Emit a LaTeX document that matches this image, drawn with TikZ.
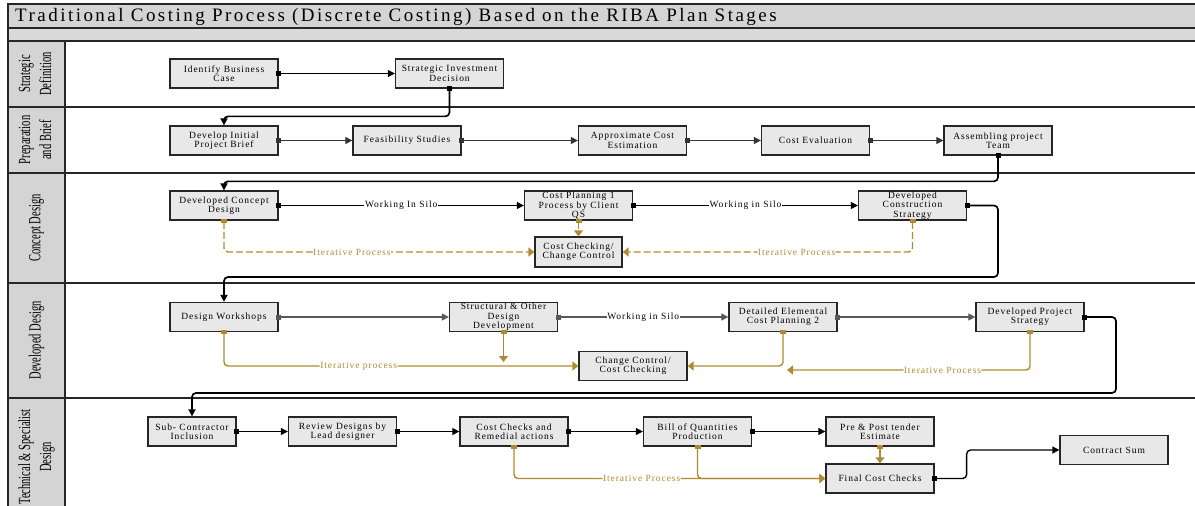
\documentclass[tikz,border=0pt]{standalone}
\usepackage{fontspec}
\setmainfont{Liberation Serif}
\newfontfamily\boxfont[LetterSpace=10]{Liberation Serif}
\newfontfamily\titlefont[LetterSpace=13]{Liberation Serif}
\usetikzlibrary{arrows.meta}
\definecolor{boxgray}{HTML}{E8E8E8}
\definecolor{lanegray}{HTML}{D4D4D4}
\definecolor{bandgray}{HTML}{DADADA}
\definecolor{gold}{HTML}{B08A30}
\begin{document}
\begin{tikzpicture}[x=1pt,y=-1pt,
  box/.style={draw=black!85, line width=1.3pt, fill=boxgray, minimum width=108pt, minimum height=29pt, inner sep=0.5pt, align=center, font=\boxfont\fontsize{9.5pt}{9.3pt}\selectfont},
  lbl/.style={fill=white, inner sep=0.6pt, font=\boxfont\fontsize{9.5pt}{9pt}\selectfont},
  glbl/.style={lbl, text=gold},
  blk/.style={draw=black, line width=1.2pt, {Square[length=5pt,width=5pt]}-{Triangle[length=7pt,width=7pt]}, shorten <=-2.5pt},
  link/.style={blk, line width=1.7pt, rounded corners=4pt},
  gld/.style={draw=gold, line width=1.4pt, {Square[length=4pt,width=6pt]}-{Triangle[length=6pt,width=9pt]}, shorten <=-2pt, rounded corners=4pt},
  gdash/.style={gld, dash pattern=on 7pt off 3pt},
  lane/.style={rotate=90, align=center, inner sep=0pt, font=\fontsize{17pt}{21pt}\selectfont},
  frame/.style={draw=black!85, line width=1.3pt}
]
\useasboundingbox (0,0) rectangle (1195,506);
\clip (0,0) rectangle (1195,506);
% frame
\fill[lanegray] (8,4) rectangle (1195,28);
\fill[bandgray] (8,28) rectangle (1195,41);
\fill[lanegray] (8,41) rectangle (65,506);
\draw[frame] (1195,4) -- (8,4) -- (8,506);
\draw[frame] (8,28) -- (1195,28);
\draw[frame] (8,41) -- (1195,41);
\draw[frame] (65,41) -- (65,506);
\foreach \yy in {107,173,283,398} \draw[frame] (8,\yy) -- (1195,\yy);
\node[anchor=west, inner sep=0pt, font=\titlefont\fontsize{19pt}{19pt}\selectfont] (title) at (15,16.5) {Traditional Costing Process (Discrete Costing) Based on the RIBA Plan Stages};
% lane labels
\node[lane] (l1) at (36.5,74) {\scalebox{0.62}[1]{\begin{tabular}{@{}c@{}}Strategic\\Definition\end{tabular}}};
\node[lane] (l2) at (36.5,140) {\scalebox{0.62}[1]{\begin{tabular}{@{}c@{}}Preparation\\and Brief\end{tabular}}};
\node[lane] (l3) at (36.5,228) {\scalebox{0.62}[1]{Concept Design}};
\node[lane] (l4) at (36.5,340.5) {\scalebox{0.62}[1]{Developed Design}};
\node[lane] (l5) at (36.5,457) {\scalebox{0.62}[1]{\begin{tabular}{@{}c@{}}Technical \& Specialist\\Design\end{tabular}}};
% boxes
\node[box] (idb) at (224,73.5) {Identify Business\\Case};
\node[box] (sid) at (449.5,73.5) {Strategic Investment\\Decision};
\node[box] (dipb) at (224,140.5) {Develop Initial\\Project Brief};
\node[box] (fs) at (407,140.5) {Feasibility Studies};
\node[box] (ace) at (632.5,140.5) {Approximate Cost\\Estimation};
\node[box] (ce) at (815.5,140.5) {Cost Evaluation};
\node[box] (apt) at (998,140.5) {Assembling project\\Team};
\node[box] (dcd) at (224,205.5) {Developed Concept\\Design};
\node[box] (cp1) at (578.5,205.5) {Cost Planning 1\\Process by Client\\QS};
\node[box] (dcs) at (912.5,205.5) {Developed\\Construction\\Strategy};
\node[box, minimum width=87pt, minimum height=30pt] (ccc) at (578.5,252) {Cost Checking/\\Change Control};
\node[box] (dw) at (224,317) {Design Workshops};
\node[box] (sod) at (503.5,317) {Structural \& Other\\Design\\Development};
\node[box] (dec) at (783,317) {Detailed Elemental\\Cost Planning 2};
\node[box] (dps) at (1030,317) {Developed Project\\Strategy};
\node[box] (ccx) at (633,366) {Change Control/\\Cost Checking};
\node[box, minimum width=88pt] (sci) at (192,431.5) {Sub- Contractor\\Inclusion};
\node[box] (rdl) at (342.5,431.5) {Review Designs by\\Lead designer};
\node[box] (ccr) at (514,431.5) {Cost Checks and\\Remedial actions};
\node[box] (boq) at (697.5,431.5) {Bill of Quantities\\Production};
\node[box] (ppt) at (880,431.5) {Pre \& Post tender\\Estimate};
\node[box] (fcc) at (880,478.5) {Final Cost Checks};
\node[box] (cs) at (1114,450) {Contract Sum};
% lane 1
\draw[blk] (idb.east) -- (sid.west);
\draw[link] (sid.south) |- ([yshift=9pt]dipb.north) -- (dipb.north);
% lane 2
\draw[blk, draw=black!80] (dipb.east) -- (fs.west);
\draw[blk, draw=black!80] (fs.east) -- (ace.west);
\draw[blk, draw=black!80] (ace.east) -- (ce.west);
\draw[blk, draw=black!80] (ce.east) -- (apt.west);
\draw[link] (apt.south) |- ([yshift=9pt]dcd.north) -- (dcd.north);
% lane 3
\draw[blk] (dcd.east) -- node[lbl]{Working In Silo} (cp1.west);
\draw[blk] (cp1.east) -- node[lbl]{Working in Silo} (dcs.west);
\draw[gdash] (cp1.south) -- (ccc.north);
\draw[gdash] (dcd.south) |- node[glbl, pos=0.706]{Iterative Process} (ccc.west);
\draw[gdash] (dcs.south) |- node[glbl, pos=0.70]{Iterative Process} (ccc.east);
\coordinate (t3) at (998,277);
\draw[link] (dcs.east) -| (t3) -| (dw.north);
% lane 4
\draw[blk, draw=black!65] (dw.east) -- (sod.west);
\draw[blk, draw=black!65] (sod.east) -- node[lbl]{Working in Silo} (dec.west);
\draw[blk, draw=black!65] (dec.east) -- (dps.west);
\draw[gld] (dw.south) |- node[glbl, pos=0.69]{Iterative process} (ccx.west);
\coordinate (g2) at (503.5,362);
\draw[gld] (sod.south) -- (g2);
\draw[gld] (dec.south) |- (ccx.east);
\coordinate (g4) at (787,370);
\draw[gld] (dps.south) |- node[glbl, pos=0.68]{Iterative Process} (g4);
\coordinate (t4) at (1116,393);
\draw[link] (dps.east) -| (t4) -| (sci.north);
% lane 5
\draw[blk] (sci.east) -- (rdl.west);
\draw[blk] (rdl.east) -- (ccr.west);
\draw[blk] (ccr.east) -- (boq.west);
\draw[blk] (boq.east) -- (ppt.west);
\draw[gld] (ppt.south) -- (fcc.north);
\draw[gld] (boq.south) |- (fcc.west);
\draw[gld] (ccr.south) |- node[glbl, pos=0.705]{Iterative Process} (fcc.west);
\draw[link, line width=1.4pt] (fcc.east) -- ++(32,0) |- (cs.west);
\end{tikzpicture}
\end{document}
